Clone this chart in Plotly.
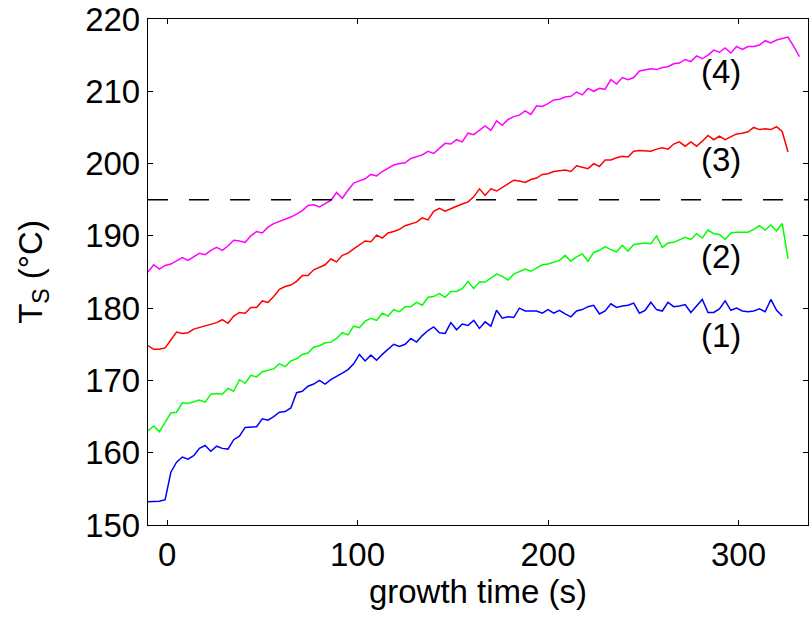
import plotly.graph_objects as go

# growth time grid (s)
time_s = [-10, -7, -4, -1, 2, 5, 8, 11, 14, 17,
          20, 23, 26, 29, 32, 35, 38, 41, 44, 47,
          50, 53, 56, 59, 62, 65, 68, 71, 74, 77,
          80, 83, 86, 89, 92, 95, 98, 101, 104, 107,
          110, 113, 116, 119, 122, 125, 128, 131, 134, 137,
          140, 143, 146, 149, 152, 155, 158, 161, 164, 167,
          170, 173, 176, 179, 182, 185, 188, 191, 194, 197,
          200, 203, 206, 209, 212, 215, 218, 221, 224, 227,
          230, 233, 236, 239, 242, 245, 248, 251, 254, 257,
          260, 263, 266, 269, 272, 275, 278, 281, 284, 287,
          290, 293, 296, 299, 302, 305, 308, 311, 314, 317,
          320, 323, 326, 329, 332]

# substrate temperature T_S (degC), series (1)..(4)
ts_1 = [153.2, 153.2, 153.3, 153.5, 157.3, 158.7, 159.4, 159.1, 159.6, 160.6,
        161.0, 160.2, 160.9, 160.6, 160.5, 161.8, 162.3, 163.5, 163.5, 163.6,
        164.7, 164.5, 165.0, 165.6, 165.7, 166.2, 168.3, 168.5, 169.2, 169.5,
        170.0, 169.5, 170.1, 170.5, 171.0, 171.5, 172.3, 173.6, 172.7, 173.5,
        172.8, 173.6, 174.3, 175.0, 174.7, 175.0, 175.8, 175.3, 176.2, 176.9,
        177.4, 176.6, 176.5, 178.0, 177.0, 177.8, 177.6, 178.3, 177.2, 178.1,
        177.5, 179.7, 178.6, 178.8, 178.7, 180.0, 179.6, 179.6, 179.6, 179.3,
        179.8, 179.3, 179.7, 179.2, 178.8, 179.6, 179.8, 180.2, 180.4, 179.2,
        179.6, 180.6, 180.1, 180.3, 180.4, 180.7, 179.3, 179.7, 180.8, 179.8,
        179.6, 180.8, 180.2, 180.3, 180.5, 179.4, 180.3, 181.2, 179.4, 179.4,
        179.9, 181.0, 179.7, 180.0, 179.6, 179.5, 179.6, 179.9, 179.5, 181.2,
        179.7, 178.9]

ts_2 = [163.0, 163.7, 162.9, 164.2, 165.5, 165.6, 166.9, 166.8, 167.0, 167.3,
        167.0, 168.1, 168.2, 168.1, 168.9, 168.5, 170.1, 169.6, 170.7, 170.5,
        171.2, 171.4, 171.6, 172.3, 171.9, 172.7, 173.0, 173.6, 173.8, 174.6,
        174.8, 175.2, 175.3, 175.8, 176.6, 176.3, 177.5, 177.3, 178.2, 178.6,
        178.3, 179.3, 178.9, 179.8, 179.5, 180.2, 180.2, 180.8, 180.4, 181.5,
        181.6, 182.0, 181.5, 182.3, 182.3, 182.7, 183.7, 182.7, 183.6, 183.6,
        184.2, 184.7, 184.4, 183.9, 184.7, 185.0, 185.4, 185.1, 185.5, 186.0,
        186.1, 186.3, 186.6, 187.3, 186.5, 187.1, 187.5, 186.5, 187.7, 188.0,
        188.5, 188.1, 187.8, 188.7, 187.9, 188.8, 188.9, 189.0, 188.9, 190.0,
        188.4, 189.0, 189.1, 189.4, 189.8, 189.5, 190.3, 189.7, 190.8, 190.3,
        190.2, 189.5, 190.4, 190.5, 190.5, 190.5, 190.9, 191.4, 190.8, 191.5,
        190.7, 191.7, 186.8]

ts_3 = [174.8, 174.3, 174.3, 174.5, 175.6, 176.7, 176.5, 176.6, 177.1, 177.3,
        177.6, 177.7, 178.0, 178.4, 177.9, 178.9, 179.4, 179.3, 180.1, 180.1,
        181.0, 180.8, 181.6, 182.6, 183.0, 183.2, 183.7, 184.5, 184.5, 185.3,
        185.6, 186.0, 186.8, 186.4, 187.3, 187.6, 188.2, 188.7, 189.3, 189.2,
        190.1, 189.7, 190.4, 190.6, 190.9, 191.4, 191.6, 191.9, 192.5, 192.2,
        193.4, 193.8, 193.4, 193.8, 194.1, 194.4, 194.7, 195.4, 196.5, 195.6,
        196.5, 196.2, 196.7, 197.2, 197.7, 197.6, 197.4, 197.8, 198.0, 198.5,
        198.6, 198.9, 199.0, 199.1, 198.9, 199.7, 199.5, 199.3, 200.0, 199.6,
        200.5, 200.5, 200.8, 201.0, 200.9, 201.7, 201.8, 201.7, 201.7, 202.0,
        202.2, 202.0, 202.7, 203.0, 202.4, 203.0, 202.4, 203.1, 203.9, 203.3,
        203.8, 203.3, 203.7, 204.1, 204.2, 204.4, 205.0, 204.7, 204.8, 204.7,
        205.1, 204.4, 201.6]

ts_4 = [185.0, 186.0, 185.4, 185.9, 186.1, 186.5, 187.0, 186.6, 187.1, 187.6,
        187.4, 188.0, 188.4, 188.0, 188.6, 189.4, 189.3, 189.1, 190.0, 190.6,
        190.4, 191.2, 191.7, 192.0, 192.2, 192.6, 193.0, 193.5, 194.2, 194.3,
        194.0, 194.4, 194.9, 196.0, 195.2, 196.3, 197.3, 197.6, 197.9, 198.5,
        198.3, 198.9, 199.3, 199.8, 200.0, 200.1, 200.7, 200.9, 201.2, 201.7,
        201.4, 202.1, 202.8, 202.7, 203.3, 203.0, 204.2, 204.0, 204.6, 205.2,
        204.6, 205.9, 205.3, 206.1, 206.5, 206.7, 207.3, 206.8, 208.0, 207.9,
        208.3, 208.8, 208.9, 209.2, 209.3, 209.9, 209.5, 210.4, 210.0, 210.4,
        210.3, 211.6, 211.0, 211.9, 211.6, 211.9, 212.8, 212.9, 213.1, 213.0,
        213.3, 213.4, 213.8, 213.9, 214.4, 214.1, 214.9, 214.5, 215.0, 215.7,
        215.4, 216.0, 215.3, 216.2, 215.8, 216.2, 216.2, 216.4, 217.0, 216.7,
        217.1, 217.3, 217.5, 216.2, 214.8]

series_colors = ["#0000ff", "#00ff00", "#ff0000", "#ff00ff"]
series_labels = ["(1)", "(2)", "(3)", "(4)"]
label_x = [291, 291, 291, 291]
label_y = [176.2, 187.2, 200.5, 212.8]

threshold_T = 195
x_ticks = [0, 100, 200, 300]
y_ticks = [150, 160, 170, 180, 190, 200, 210, 220]

FONT = "Liberation Sans, Arial, Helvetica, sans-serif"
FS = 33

fig = go.Figure()
for vals, col in zip([ts_1, ts_2, ts_3, ts_4], series_colors):
    fig.add_trace(go.Scatter(x=time_s[:len(vals)], y=vals, mode="lines",
                             line=dict(color=col, width=1.5), showlegend=False))

fig.add_shape(type="line", xref="paper", x0=0, x1=1, yref="y",
              y0=threshold_T, y1=threshold_T,
              line=dict(color="black", width=1.6, dash="20px,21px"))

for lx, ly, lt in zip(label_x, label_y, series_labels):
    fig.add_annotation(x=lx, y=ly, text=lt, showarrow=False,
                       font=dict(size=FS, color="black", family=FONT))

axis_common = dict(showline=True, linecolor="black", linewidth=1.4, mirror="ticks",
                   ticks="inside", ticklen=5, tickwidth=1.2, tickcolor="black",
                   showgrid=False, zeroline=False, ticklabeloverflow="allow",
                   tickfont=dict(size=FS, color="black", family=FONT))

fig.update_layout(
    width=810, height=621,
    margin=dict(l=148, r=1, t=14, b=96),
    paper_bgcolor="white", plot_bgcolor="white",
    font=dict(family=FONT, size=FS, color="black"),
    xaxis=dict(range=[-10, 336.5], tickvals=x_ticks,
               title=dict(text="growth time (s)", standoff=4,
                          font=dict(size=FS, family=FONT)), **axis_common),
    yaxis=dict(range=[150, 220], tickvals=y_ticks,
               title=dict(text="T<sub>S</sub> (°C)", standoff=32,
                          font=dict(size=FS, family=FONT)), **axis_common),
)

fig.write_html("out.html")
